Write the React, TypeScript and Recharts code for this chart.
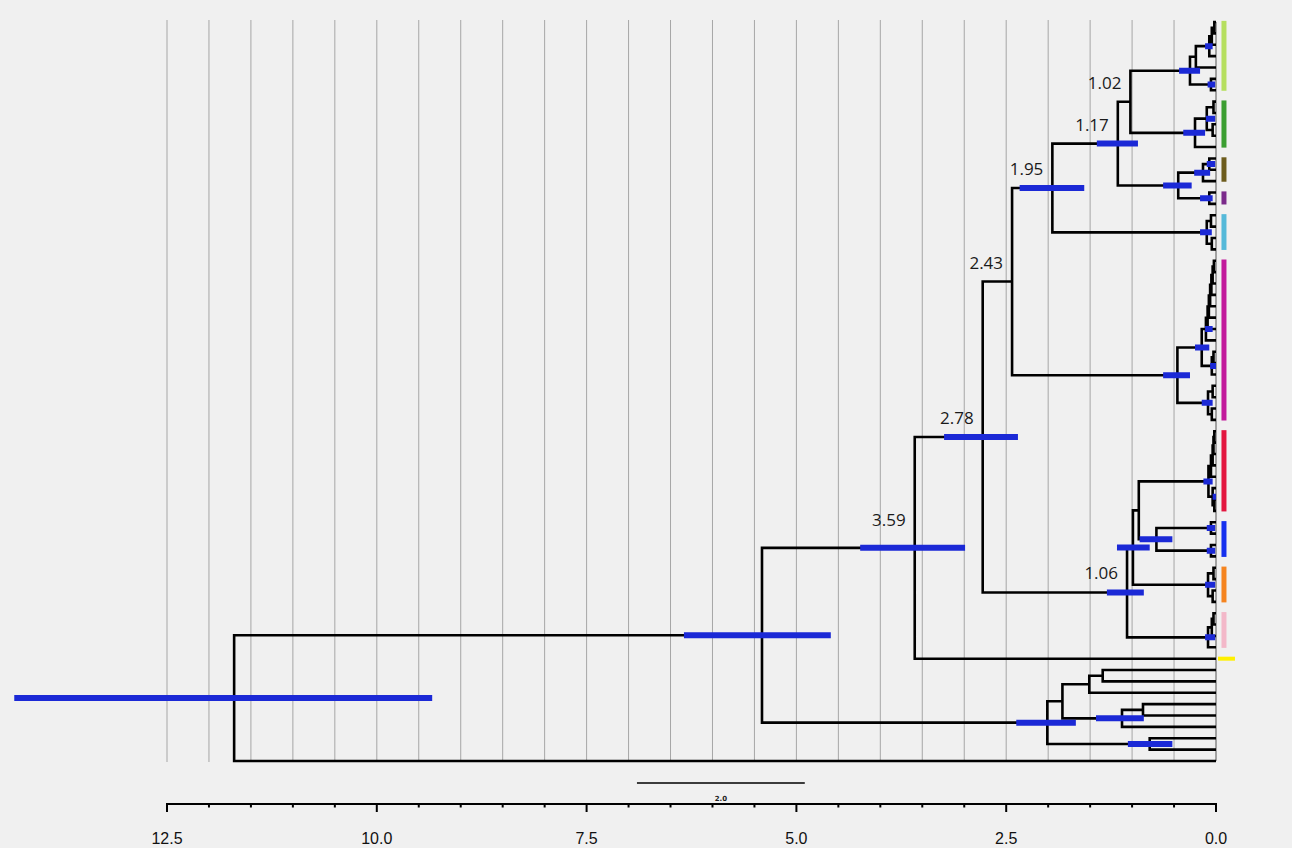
import React from 'react';
import { ComposedChart, Line, XAxis, YAxis, Scatter } from 'recharts';

// ---------- tree (Newick-like: leaves "t", internal "(...)name:age" in Ma) ----------
const cladeLightGreen = '(((((t,t):0.02,t):0.05,t)P:0.08,t):0.24,(t,t)M2:0.06)M:0.31';
const cladeGreen = '(((t,t):0.03,(t,t):0.04)N1:0.11,t)N:0.25';
const cladeOlivePurple = '(((t,t)O12:0.08,t)O:0.155,(t,t)Pu:0.08)L:0.45';
const cladeCyan = '((t,t):0.06,(t,t):0.05)J:0.11';
const cladeMagentaUpper = '(((((((t,t):0.025,t):0.04,t):0.055,t):0.07,t):0.085,t):0.1,t)U:0.12';
const cladeMagenta = `((${cladeMagentaUpper},((t,t):0.03,t)Hl:0.05)H1:0.17,((t,t):0.04,(t,t):0.05)H2:0.095)H:0.46`;
const cladeRed = '(((((t,t):0.02,t):0.03,t):0.04,t):0.06,(t,(t,t):0.02)RB:0.04)Red:0.09';
const cladeBlue = '((t,t)B1:0.06,(t,t)B2:0.06)Bl:0.71';
const cladeOrange = '((t,t):0.03,(t,t):0.04)Or:0.095';
const cladePink = '(((t,t):0.03,t):0.05,t)Pk:0.095';
const cladeOutgroup = '((((t,t):1.35,t):1.51,((t,t):0.87,t)C1b:1.12):1.83,(t,t)C2:0.79)C:2.01';

const nodeK = `(${cladeLightGreen},${cladeGreen})K:1.02`;
const nodeI = `(${nodeK},${cladeOlivePurple})I:1.17`;
const nodeG = `(${nodeI},${cladeCyan})G:1.95`;
const nodeE = `(${nodeG},${cladeMagenta})E:2.43`;
const nodeS = `(${cladeRed},${cladeBlue})S:0.92`;
const nodeR = `(${nodeS},${cladeOrange})R:0.99`;
const nodeF = `(${nodeR},${cladePink})F:1.06`;
const nodeD = `(${nodeE},${nodeF})D:2.78`;
const nodeB = `(${nodeD},t)B:3.59`;
const nodeA = `(${nodeB},${cladeOutgroup})A:5.41`;
const TREE = `(${nodeA},t)root:11.7`;

// ---------- 95% HPD intervals (Ma) ----------
const hpdNodes = ['root', 'A', 'B', 'D', 'G', 'I', 'M', 'P', 'M2', 'N', 'N1', 'L', 'O', 'O12', 'Pu', 'J', 'H', 'H1', 'U', 'Hl', 'H2', 'F', 'R', 'Bl', 'Red', 'RB', 'B1', 'B2', 'Or', 'Pk', 'C', 'C1b', 'C2'];
const hpdLow = [9.34, 4.59, 2.99, 2.36, 1.57, 0.93, 0.19, 0.04, 0.01, 0.13, 0.01, 0.29, 0.07, 0.01, 0.04, 0.05, 0.31, 0.08, 0.04, 0.0, 0.04, 0.86, 0.79, 0.52, 0.04, 0.0, 0.01, 0.01, 0.01, 0.01, 1.67, 0.86, 0.52];
const hpdHigh = [14.32, 6.34, 4.24, 3.24, 2.34, 1.42, 0.44, 0.13, 0.1, 0.39, 0.12, 0.63, 0.26, 0.11, 0.19, 0.19, 0.63, 0.25, 0.13, 0.07, 0.17, 1.3, 1.18, 0.91, 0.15, 0.04, 0.11, 0.11, 0.13, 0.13, 2.38, 1.43, 1.05];

// ---------- labelled node ages ----------
const labelNodes = ['B', 'D', 'E', 'G', 'I', 'K', 'F'];

// ---------- clade colour bars ----------
const cladeColors = ['#b6df5f', '#3b9e31', '#6d5c1d', '#7b2b8b', '#55b9d9', '#c21a9c', '#e3163f', '#1530ef', '#f5841f', '#f3b8c9', '#fff000'];
const cladeFirstLeaf = [0, 7, 12, 15, 17, 21, 36, 44, 48, 52, 56];
const cladeLastLeaf = [6, 11, 14, 16, 20, 35, 43, 47, 51, 55, 56];

// ---------- axis ----------
const gridTicks = [0, 0.5, 1, 1.5, 2, 2.5, 3, 3.5, 4, 4.5, 5, 5.5, 6, 6.5, 7, 7.5, 8, 8.5, 9, 9.5, 10, 10.5, 11, 11.5, 12, 12.5];
const majorTicks = [0, 2.5, 5, 7.5, 10, 12.5];
const scaleBarStart = 6.9;
const scaleBarLength = 2.0;

// ---------- layout constants ----------
const W = 1292;
const H = 848;
const ZERO_PX = 1216;
const PX_PER_MY = 1049 / 12.5;
const LEAF0_PX = 22;
const LEAF_STEP = 739 / 65;
const AXIS_PX = 804;
const X_MIN = -(W - ZERO_PX) / PX_PER_MY;
const X_MAX = ZERO_PX / PX_PER_MY;
const Y_MIN = -LEAF0_PX / LEAF_STEP;
const Y_MAX = (AXIS_PX - LEAF0_PX) / LEAF_STEP;
const leafAt = (px: number) => (px - LEAF0_PX) / LEAF_STEP;
const LABEL_LIFT: Record<string, number> = { B: 9 };

type TNode = { name: string; age: number; y: number; children: TNode[] };

function parseTree(s: string): TNode {
  let i = 0;
  let leaf = 0;
  const readName = () => {
    const st = i;
    while (i < s.length && /[A-Za-z0-9_]/.test(s[i])) i++;
    return s.slice(st, i);
  };
  const readAge = () => {
    if (s[i] !== ':') return 0;
    i++;
    const st = i;
    while (i < s.length && /[0-9.]/.test(s[i])) i++;
    return parseFloat(s.slice(st, i));
  };
  const node = (): TNode => {
    if (s[i] === '(') {
      i++;
      const children = [node()];
      while (s[i] === ',') {
        i++;
        children.push(node());
      }
      i++;
      const name = readName();
      const age = readAge();
      const y = (children[0].y + children[children.length - 1].y) / 2;
      return { name, age, y, children };
    }
    const name = readName();
    const age = readAge();
    return { name, age, y: leaf++, children: [] };
  };
  return node();
}

const root = parseTree(TREE);
const byName: Record<string, TNode> = {};
(function index(n: TNode) {
  if (n.name && n.name !== 't') byName[n.name] = n;
  n.children.forEach(index);
})(root);

type Pt = { x: number; y: number | null };
const treePts: Pt[] = [];
(function collect(n: TNode) {
  if (!n.children.length) return;
  const f = n.children[0];
  const l = n.children[n.children.length - 1];
  treePts.push({ x: f.age, y: f.y }, { x: n.age, y: f.y }, { x: n.age, y: l.y }, { x: l.age, y: l.y }, { x: l.age, y: null });
  n.children.slice(1, -1).forEach((c) => {
    treePts.push({ x: c.age, y: c.y }, { x: n.age, y: c.y }, { x: n.age, y: null });
  });
  n.children.forEach(collect);
})(root);

const hpdPts: Pt[] = [];
hpdNodes.forEach((nm, k) => {
  const n = byName[nm];
  if (!n) return;
  hpdPts.push({ x: hpdHigh[k], y: n.y }, { x: hpdLow[k], y: n.y }, { x: hpdLow[k], y: null });
});

const labelPts = labelNodes.map((nm) => ({ x: byName[nm].age, y: byName[nm].y, label: byName[nm].age.toFixed(2), name: nm }));

const cladeBars = cladeColors.map((c, k) => {
  const a = cladeFirstLeaf[k];
  const b = cladeLastLeaf[k];
  if (a === b) return { color: c, single: true, data: [{ x: -0.024, y: a }, { x: -0.226, y: a }] };
  return { color: c, single: false, data: [{ x: -0.095, y: a - 0.1 }, { x: -0.095, y: b + 0.05 }] };
});

const gridTop = leafAt(20);
const gridBottom = leafAt(762);
const gridPts: Pt[] = [];
gridTicks.forEach((t) => {
  if (t === 0) return;
  gridPts.push({ x: t, y: gridTop }, { x: t, y: gridBottom }, { x: t, y: null });
});
const tipLinePts = [{ x: 0, y: 0 }, { x: 0, y: 65 }];
const axisLinePts = [{ x: gridTicks[gridTicks.length - 1], y: Y_MAX }, { x: 0, y: Y_MAX }];
const scaleY = leafAt(783);
const scaleBarPts = [{ x: scaleBarStart, y: scaleY }, { x: scaleBarStart - scaleBarLength, y: scaleY }];
const scaleLabelPts = [{ x: scaleBarStart - scaleBarLength / 2, y: scaleY, label: scaleBarLength.toFixed(1) }];

const AxisTick = (props: any) => {
  const { x, y, payload } = props;
  const v = payload.value as number;
  const major = majorTicks.some((m) => Math.abs(m - v) < 1e-6);
  return (
    <g>
      <line x1={x} y1={y - 1} x2={x} y2={y + (major ? 8 : 3.5)} stroke="#000" strokeWidth={2} />
      {major && (
        <text x={x} y={y + 40} textAnchor="middle" fontSize={16} fontFamily="'Liberation Sans', Arial, sans-serif" fill="#111">
          {v.toFixed(1)}
        </text>
      )}
    </g>
  );
};

const NodeLabel = (p: any) => (
  <text
    x={p.cx - 9}
    y={p.cy - 13 - (LABEL_LIFT[p.payload.name] || 0)}
    textAnchor="end"
    fontSize={17}
    fontFamily="'Open Sans', sans-serif"
    fill="#1a1a1a"
  >
    {p.payload.label}
  </text>
);

const ScaleLabel = (p: any) => (
  <text x={p.cx} y={p.cy + 18} textAnchor="middle" fontSize={7} fontWeight="bold" fontFamily="'DejaVu Sans', sans-serif" fill="#222">
    {p.payload.label}
  </text>
);

const lineCommon = { dataKey: 'y', dot: false, activeDot: false, connectNulls: false, isAnimationActive: false } as const;

export default function App() {
  return (
    <div style={{ width: W, height: H, background: '#f0f0f0', pointerEvents: 'none' }}>
      <style>{'body{margin:0;background:#f0f0f0;}'}</style>
      <ComposedChart width={W} height={H} margin={{ top: 0, right: 0, bottom: 0, left: 0 }}>
        <XAxis
          type="number"
          dataKey="x"
          domain={[X_MIN, X_MAX]}
          reversed
          ticks={gridTicks}
          interval={0}
          axisLine={false}
          tickLine={false}
          tickSize={0}
          tickMargin={0}
          tick={<AxisTick />}
          height={H - AXIS_PX}
        />
        <YAxis type="number" dataKey="y" domain={[Y_MIN, Y_MAX]} reversed hide width={0} />
        <Line {...lineCommon} data={gridPts} stroke="#a6a6a6" strokeWidth={1} />
        <Line {...lineCommon} data={tipLinePts} stroke="#555" strokeWidth={1} />
        <Line {...lineCommon} data={treePts} stroke="#000" strokeWidth={2.6} />
        <Line {...lineCommon} data={hpdPts} stroke="#1b29d6" strokeWidth={6} />
        {cladeBars.map((c, k) => (
          <Line key={k} {...lineCommon} data={c.data} stroke={c.color} strokeWidth={c.single ? 4 : 5} />
        ))}
        <Line {...lineCommon} data={axisLinePts} stroke="#000" strokeWidth={2} />
        <Line {...lineCommon} data={scaleBarPts} stroke="#000" strokeWidth={1.5} />
        <Scatter data={labelPts} shape={<NodeLabel />} isAnimationActive={false} />
        <Scatter data={scaleLabelPts} shape={<ScaleLabel />} isAnimationActive={false} />
      </ComposedChart>
    </div>
  );
}
